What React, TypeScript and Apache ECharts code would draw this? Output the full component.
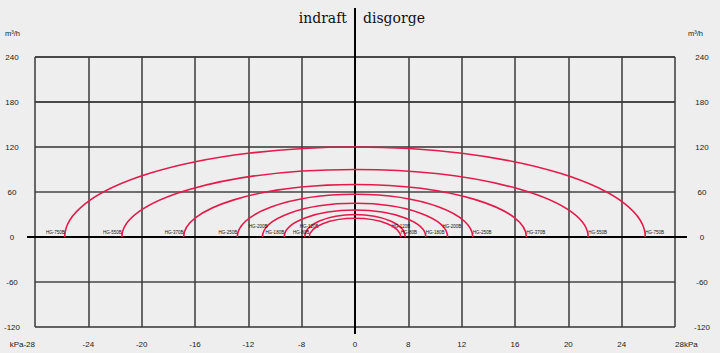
import React, { useEffect, useRef } from "react";
import * as echarts from "echarts";

// x tick labels (kPa) – left half is "indraft", right half is "disgorge"
const pressureTicks = ["-28", "-24", "-20", "-16", "-12", "-8", "0", "8", "12", "16", "20", "24", "28"];
// y axis (m³/h)
const flowMin = -120;
const flowMax = 240;
const flowStep = 60;
const pressureMin = -28;
const pressureMax = 28;

// pump models: max pressure (kPa, both directions) and max flow (m³/h)
const models = ["HG-750B", "HG-550B", "HG-370B", "HG-250B", "HG-200B", "HG-180B", "HG-120B", "HG-80B"];
const modelPressure = [25.4, 20.4, 15.0, 10.3, 8.1, 6.2, 4.4, 4.0];
const modelFlow = [120, 90, 70, 57, 45, 36, 30, 25];

// label placement styling (pixels), not data
const labelPlacement: Record<string, { dx?: number; dy?: number; inward?: boolean }> = {
  "HG-200B": { dx: 5, dy: -11 },
  "HG-120B": { dx: -5, dy: -11, inward: true },
};

const CURVE = "#e31b4b";
const FONT = "'Liberation Sans', Arial, sans-serif";

export default function App() {
  const ref = useRef<HTMLDivElement>(null);
  useEffect(() => {
    if (!ref.current) return;
    const chart = echarts.init(ref.current, null, { renderer: "svg" });
    const last = pressureTicks.length - 1;
    const option: any = {
      animation: false,
      backgroundColor: "#eeeeee",
      title: [
        { text: "indraft", right: 373, top: 11, padding: 0, textStyle: { fontFamily: "'DejaVu Serif', serif", fontSize: 14, fontWeight: "normal", color: "#111" } },
        { text: "disgorge", left: 363, top: 11, padding: 0, textStyle: { fontFamily: "'DejaVu Serif', serif", fontSize: 14, fontWeight: "normal", color: "#111" } },
        { text: "m³/h", left: 5, top: 29, padding: 0, textStyle: { fontFamily: FONT, fontSize: 7.5, fontWeight: "normal", color: "#222" } },
        { text: "m³/h", left: 688, top: 29, padding: 0, textStyle: { fontFamily: FONT, fontSize: 7.5, fontWeight: "normal", color: "#222" } },
      ],
      grid: { left: 35, right: 45, top: 57, bottom: 26, containLabel: false },
      xAxis: [
        {
          type: "category",
          data: pressureTicks,
          boundaryGap: false,
          axisLine: { show: false },
          axisTick: { show: false },
          axisLabel: {
            interval: 0,
            margin: 13,
            fontSize: 8,
            fontFamily: FONT,
            color: "#222",
            alignMinLabel: "right",
            alignMaxLabel: "left",
            formatter: (v: string, i: number) => (i === 0 ? "kPa" + v : i === last ? v + "kPa" : v),
          },
          splitLine: { show: true, interval: 0, lineStyle: { color: "#3a3a3a", width: 1.5 } },
        },
        { type: "value", min: pressureMin, max: pressureMax, show: false },
      ],
      yAxis: [
        {
          type: "value",
          min: flowMin,
          max: flowMax,
          interval: flowStep,
          position: "left",
          axisLine: { show: false },
          axisTick: { show: false },
          axisLabel: { margin: 23, align: "center", fontSize: 8, fontFamily: FONT, color: "#222" },
          splitLine: { show: true, lineStyle: { color: ["#333", "#444", "#000", "#444", "#333", "#111", "#111"], width: 1.6 } },
        },
        {
          type: "value",
          min: flowMin,
          max: flowMax,
          interval: flowStep,
          position: "right",
          axisLine: { show: false },
          axisTick: { show: false },
          axisLabel: { margin: 27, align: "center", fontSize: 8, fontFamily: FONT, color: "#222" },
          splitLine: { show: false },
        },
      ],
      series: [
        {
          type: "custom",
          xAxisIndex: 1,
          yAxisIndex: 0,
          z: 5,
          data: models.map((_, i) => [modelPressure[i], modelFlow[i]]),
          renderItem: (params: any, api: any) => {
            const a = api.value(0) as number;
            const h = api.value(1) as number;
            const name = models[params.dataIndex];
            const L = api.coord([-a, 0]);
            const R = api.coord([a, 0]);
            const T = api.coord([0, h]);
            const rx = (R[0] - L[0]) / 2;
            const ry = L[1] - T[1];
            const p = labelPlacement[name] || {};
            const dx = p.dx ?? 0;
            const dy = p.dy ?? -4.5;
            const inward = !!p.inward;
            const textStyle = { fill: "#111", fontSize: 4.5, fontFamily: FONT, verticalAlign: "middle" };
            return {
              type: "group",
              children: [
                {
                  type: "path",
                  shape: { pathData: `M ${L[0]} ${L[1]} A ${rx} ${ry} 0 0 1 ${R[0]} ${R[1]}` },
                  style: { fill: "none", stroke: CURVE, lineWidth: 1.6 },
                },
                { type: "text", style: { ...textStyle, text: name, x: L[0] + dx, y: L[1] + dy, align: inward ? "left" : "right" } },
                { type: "text", style: { ...textStyle, text: name, x: R[0] - dx, y: R[1] + dy, align: inward ? "right" : "left" } },
              ],
            };
          },
        },
      ],
    };
    chart.setOption(option);

    const x0 = chart.convertToPixel({ xAxisIndex: 1 } as any, 0) as number;
    const xL = chart.convertToPixel({ xAxisIndex: 1 } as any, pressureMin) as number;
    const xR = chart.convertToPixel({ xAxisIndex: 1 } as any, pressureMax) as number;
    const yZero = chart.convertToPixel({ yAxisIndex: 0 } as any, 0) as number;
    const yTop = chart.convertToPixel({ yAxisIndex: 0 } as any, flowMax) as number;
    const yBot = chart.convertToPixel({ yAxisIndex: 0 } as any, flowMin) as number;
    chart.setOption({
      graphic: [
        { type: "line", z: 3, shape: { x1: x0, y1: yTop - 49, x2: x0, y2: yBot + 7 }, style: { stroke: "#000", lineWidth: 2 } },
        { type: "line", z: 3, shape: { x1: xL - 8, y1: yZero, x2: xR + 12, y2: yZero }, style: { stroke: "#000", lineWidth: 2 } },
      ],
    });

    return () => chart.dispose();
  }, []);
  return <div ref={ref} style={{ position: "absolute", left: 0, top: 0, width: 720, height: 353 }} />;
}
